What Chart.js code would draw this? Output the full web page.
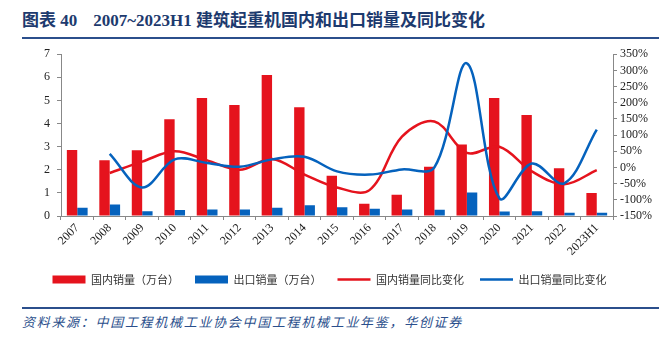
<!DOCTYPE html>
<html>
<head>
<meta charset="utf-8">
<script src="https://cdn.jsdelivr.net/npm/chart.js@4.4.0/dist/chart.umd.min.js"></script>
<style>
  body { margin: 0; background: #fff; width: 659px; height: 337px; overflow: hidden; position: relative; }
  #title { position: absolute; left: 22px; top: 6px; font: bold 17px "Liberation Serif", "Noto Sans CJK SC"; color: #1d3a6e; white-space: nowrap; }
  #title .cjk { font-family: "Noto Sans CJK SC"; }
  .rule { position: absolute; left: 22px; right: 0; height: 2px; background: #2b4f8c; }
  #source { position: absolute; left: 22px; top: 312px; font: italic 13px "Noto Sans CJK SC"; letter-spacing: 1.7px; color: #2b4f8c; white-space: nowrap; }
  #chart { position: absolute; left: 0; top: 40px; }
</style>
</head>
<body>
<div id="title"><span class="cjk">图表</span> 40<span style="margin-left:16px">2007~2023H1 </span><span class="cjk">建筑起重机国内和出口销量及同比变化</span></div>
<div class="rule" style="top:37px"></div>
<canvas id="chart" width="659" height="262"></canvas>
<div class="rule" style="top:307px"></div>
<div id="source">资料来源：中国工程机械工业协会中国工程机械工业年鉴，华创证券</div>
<script>
const years = ["2007", "2008", "2009", "2010", "2011", "2012", "2013", "2014", "2015", "2016", "2017", "2018", "2019", "2020", "2021", "2022", "2023H1"];
const domesticSales = [2.86, 2.41, 2.84, 4.19, 5.11, 4.8, 6.1, 4.71, 1.74, 0.53, 0.92, 2.13, 3.09, 5.11, 4.37, 2.07, 1.0];
const exportSales = [0.36, 0.5, 0.21, 0.26, 0.28, 0.28, 0.36, 0.46, 0.38, 0.31, 0.28, 0.27, 1.02, 0.2, 0.21, 0.14, 0.14];
const domesticYoy = [null, -17, 18, 50, 22, -7, 26, -22, -62, -70, 95, 142, 45, 64, -12, -52, -8];
const exportYoy = [null, 42, -62, 25, 14, 2, 25, 33, -12, -22, -6, 0, 322, -95, 12, -49, 117];

const red = "#e5131d";
const blue = "#0562bd";
const axisColor = "#888888";
const tickFont = { family: "Liberation Serif", size: 12 };

const ctx = document.getElementById("chart").getContext("2d");
const chart = new Chart(ctx, {
  data: {
    labels: years,
    datasets: [
      {
        type: "bar",
        label: "国内销量（万台）",
        data: domesticSales,
        backgroundColor: red,
        pointStyle: "rect",
        yAxisID: "y",
        order: 3,
        categoryPercentage: 0.64,
        barPercentage: 1.0,
      },
      {
        type: "bar",
        label: "出口销量（万台）",
        data: exportSales,
        backgroundColor: blue,
        pointStyle: "rect",
        yAxisID: "y",
        order: 3,
        categoryPercentage: 0.64,
        barPercentage: 1.0,
      },
      {
        type: "line",
        label: "国内销量同比变化",
        data: domesticYoy,
        borderColor: red,
        backgroundColor: red,
        borderWidth: 2.5,
        pointRadius: 0,
        pointStyle: "line",
        tension: 0.35,
        yAxisID: "y1",
        order: 2,
      },
      {
        type: "line",
        label: "出口销量同比变化",
        data: exportYoy,
        borderColor: blue,
        backgroundColor: blue,
        borderWidth: 2.5,
        pointRadius: 0,
        pointStyle: "line",
        tension: 0.35,
        yAxisID: "y1",
        order: 1,
      },
    ],
  },
  options: {
    responsive: false,
    devicePixelRatio: 1,
    animation: false,
    layout: { padding: { top: 12, bottom: 7, left: 0, right: 0 } },
    plugins: {
      tooltip: { enabled: false },
      legend: {
        position: "bottom",
        labels: {
          usePointStyle: true,
          pointStyleWidth: 33,
          boxHeight: 8,
          padding: 16,
          color: "#333",
          font: { family: "Noto Sans CJK SC", size: 11 },
          sort: (a, b) => a.datasetIndex - b.datasetIndex,
        },
      },
    },
    scales: {
      x: {
        offset: true,
        grid: { drawOnChartArea: false, drawTicks: true, tickLength: 4, color: axisColor, offset: true },
        border: { color: axisColor },
        ticks: { maxRotation: 45, minRotation: 45, padding: 1, autoSkip: false, color: "#222", font: tickFont },
        afterFit: (s) => { s.height = 42; },
      },
      y: {
        position: "left",
        min: 0,
        max: 7,
        grid: { drawOnChartArea: false, tickLength: 4, color: axisColor },
        border: { color: axisColor },
        ticks: { stepSize: 1, padding: 7, autoSkip: false, color: "#222", font: tickFont },
        afterFit: (s) => { s.width = 61; },
      },
      y1: {
        position: "right",
        min: -150,
        max: 350,
        grid: { drawOnChartArea: false, tickLength: 4, color: axisColor },
        border: { color: axisColor },
        ticks: { stepSize: 50, padding: 3, autoSkip: false, color: "#222", font: tickFont, callback: (v) => v + "%" },
        afterFit: (s) => { s.width = 46; },
      },
    },
  },
});
</script>
</body>
</html>
